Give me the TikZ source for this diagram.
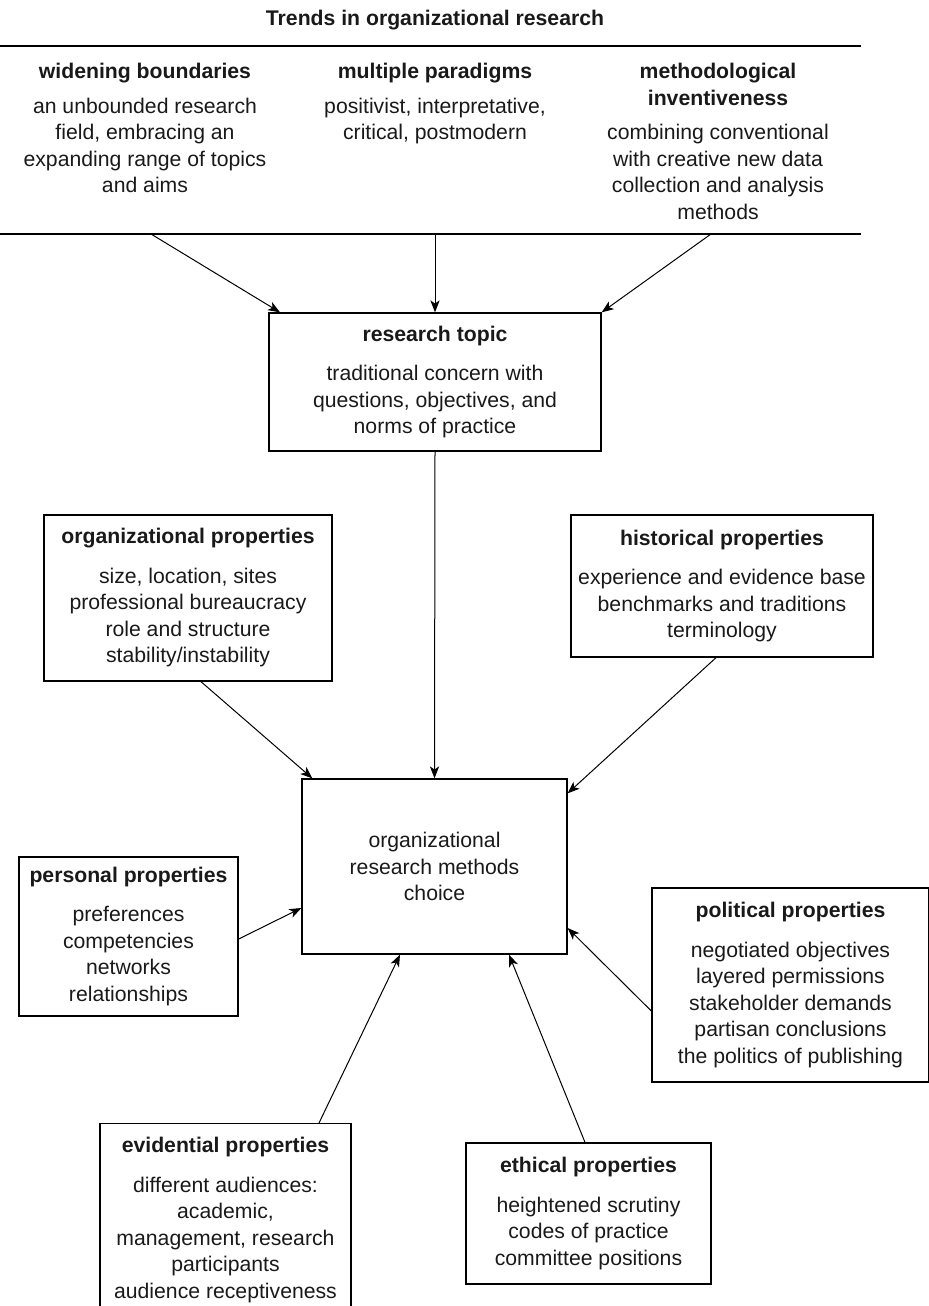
\documentclass[tikz,border=0pt]{standalone}
\usepackage{fontspec}
\setmainfont{Liberation Sans}
\usetikzlibrary{arrows.meta,calc}
\begin{document}
\begin{tikzpicture}[x=0.5pt,y=-0.5pt]
\tikzstyle{every node}=[font=\fontsize{10.6}{13.25}\selectfont, text=black!90]
\tikzstyle{prop}=[draw, line width=0.65pt, align=center, inner sep=0pt]
\tikzstyle{col}=[anchor=north, align=center, inner sep=0pt]
\tikzstyle{arr}=[-{Stealth[length=6pt,width=4.6pt,inset=1.6pt]}, line width=0.5pt]
\useasboundingbox (0,0) rectangle (929,1306);
% header and the three trends
\node[style={font=\bfseries\fontsize{10.6}{13.25}\selectfont}] (title) at (435,20) {Trends in organizational research};
\draw[line width=0.9pt] (0,46) -- (861,46);
\draw[line width=0.9pt] (0,234) -- (861,234);
\node[col] (wide) at (145,63) {\textbf{widening boundaries}\\[4pt] an unbounded research\\ field, embracing an\\ expanding range of topics\\ and aims};
\node[col] (multi) at (435,63) {\textbf{multiple paradigms}\\[4pt] positivist, interpretative,\\ critical, postmodern};
\node[col] (meth) at (718,63) {\textbf{methodological}\\ \textbf{inventiveness}\\[4pt] combining conventional\\ with creative new data\\ collection and analysis\\ methods};
\coordinate (r1) at (151,234);
\coordinate (r2) at (435,234);
\coordinate (r3) at (711,234);
% boxes
\node[prop, minimum width=166pt, minimum height=69pt] (topic) at (435,382) {\textbf{research topic}\\[6.5pt] traditional concern with\\ questions, objectives, and\\ norms of practice};
\node[prop, minimum width=144pt, minimum height=83pt] (org) at (188,598) {\textbf{organizational properties}\\[6.5pt] size, location, sites\\ professional bureaucracy\\ role and structure\\ stability/instability};
\node[prop, minimum width=151pt, minimum height=71pt] (hist) at (722,586) {\textbf{historical properties}\\[6.5pt] experience and evidence base\\ benchmarks and traditions\\ terminology};
\node[prop, minimum width=132.5pt, minimum height=87.5pt] (choice) at (434.5,866.5) {organizational\\ research methods\\ choice};
\node[prop, minimum width=109.5pt, minimum height=79.5pt] (pers) at (128.5,936.5) {\textbf{personal properties}\\[6.5pt] preferences\\ competencies\\ networks\\ relationships};
\node[prop, minimum width=138.5pt, minimum height=97pt] (pol) at (790.5,985) {\textbf{political properties}\\[6.5pt] negotiated objectives\\ layered permissions\\ stakeholder demands\\ partisan conclusions\\ the politics of publishing};
\node[prop, minimum width=125.5pt, minimum height=104pt, anchor=north] (evid) at (225.5,1123) {};
\node[align=center, inner sep=0pt, anchor=north] (evidtxt) at (225.5,1137) {\textbf{evidential properties}\\[6.5pt] different audiences:\\ academic,\\ management, research\\ participants\\ audience receptiveness};
\node[prop, minimum width=122.5pt, minimum height=70.5pt] (eth) at (588.5,1213.5) {\textbf{ethical properties}\\[6.5pt] heightened scrutiny\\ codes of practice\\ committee positions};
% arrows
\path
    (r1) edge[arr] ($(topic.north)+(-155,0)$)
    (r2) edge[arr] (topic.north)
    (r3) edge[arr] (topic.north east)
    (topic.south) edge[arr] (choice.north)
    ($(org.south)+(13,0)$) edge[arr] ($(choice.north west)+(11,0)$)
    ($(hist.south)+(-6,0)$) edge[arr] ($(choice.north east)+(0,15)$)
    ($(pers.east)+(0,2.5)$) edge[arr] ($(choice.west)+(0,41.5)$)
    ($(pol.west)+(0,26)$) edge[arr] ($(choice.east)+(0,61.5)$)
    ($(evid.north)+(93.5,0)$) edge[arr] ($(choice.south)+(-34.5,0)$)
    ($(eth.north)+(-3.5,0)$) edge[arr] ($(choice.south)+(74.5,0)$);
\end{tikzpicture}
\end{document}
